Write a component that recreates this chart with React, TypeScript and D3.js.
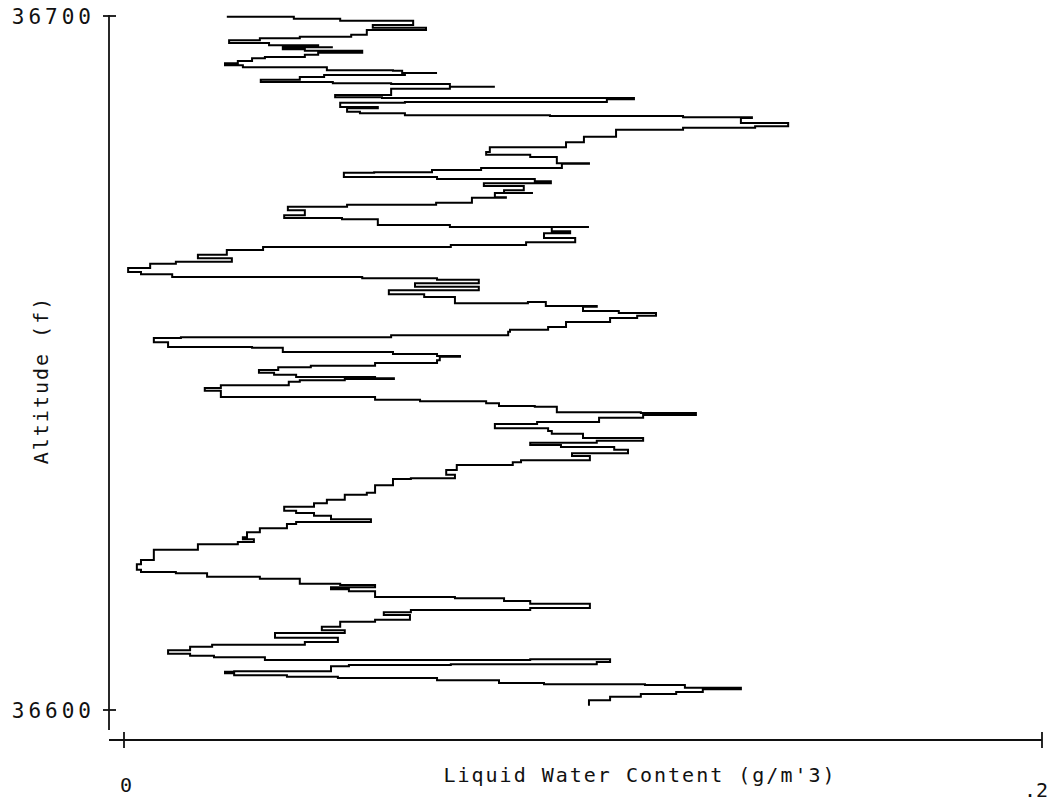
import React from "react";
import * as d3 from "d3";

// Liquid water content (g/m^3) along the trace, read top to bottom
const lwc: number[] = [
  0.0224, 0.0359, 0.0370, 0.0462, 0.0471, 0.0586, 0.0630, 0.0542, 0.0658, 0.0529,
  0.0495, 0.0383, 0.0296, 0.0229, 0.0316, 0.0423, 0.0455, 0.0346, 0.0394, 0.0519,
  0.0423, 0.0394, 0.0307, 0.0279, 0.0248, 0.0220, 0.0259, 0.0346, 0.0442, 0.0586,
  0.0606, 0.0682, 0.0612, 0.0436, 0.0383, 0.0298, 0.0362, 0.0455, 0.0582, 0.0710,
  0.0808, 0.0710, 0.0582, 0.0460, 0.0562, 0.0819, 0.1111, 0.1052, 0.0612, 0.0471,
  0.0553, 0.0486, 0.0514, 0.0612, 0.0928, 0.1218, 0.1368, 0.1344, 0.1447, 0.1375,
  0.1218, 0.1072, 0.1002, 0.0963, 0.0797, 0.0789, 0.0885, 0.0943, 0.1013, 0.0954,
  0.0778, 0.0671, 0.0545, 0.0479, 0.0682, 0.0895, 0.0930, 0.0784, 0.0871, 0.0828,
  0.0891, 0.0808, 0.0832, 0.0758, 0.0680, 0.0486, 0.0357, 0.0394, 0.0349, 0.0475,
  0.0553, 0.0710, 0.1013, 0.0932, 0.0972, 0.0915, 0.0983, 0.0876, 0.0712, 0.0303,
  0.0224, 0.0161, 0.0235, 0.0113, 0.0057, 0.0009, 0.0037, 0.0105, 0.0519, 0.0682,
  0.0773, 0.0634, 0.0773, 0.0577, 0.0654, 0.0721, 0.0880, 0.0919, 0.1030, 0.1000,
  0.1078, 0.1159, 0.1118, 0.1059, 0.0963, 0.0924, 0.0841, 0.0837, 0.0582, 0.0124,
  0.0065, 0.0096, 0.0279, 0.0346, 0.0586, 0.0682, 0.0732, 0.0688, 0.0682, 0.0547,
  0.0407, 0.0336, 0.0294, 0.0327, 0.0375, 0.0547, 0.0588, 0.0481, 0.0383, 0.0359,
  0.0211, 0.0176, 0.0211, 0.0490, 0.0547, 0.0645, 0.0789, 0.0817, 0.0895, 0.0943,
  0.1126, 0.1246, 0.1131, 0.1035, 0.0900, 0.0808, 0.0924, 0.0932, 0.1000, 0.1131,
  0.1030, 0.0885, 0.0952, 0.1068, 0.1098, 0.0976, 0.1015, 0.0865, 0.0847, 0.0725,
  0.0702, 0.0721, 0.0625, 0.0586, 0.0547, 0.0529, 0.0481, 0.0442, 0.0414, 0.0349,
  0.0375, 0.0414, 0.0451, 0.0538, 0.0375, 0.0355, 0.0296, 0.0268, 0.0259, 0.0283,
  0.0248, 0.0161, 0.0065, 0.0037, 0.0028, 0.0037, 0.0113, 0.0181, 0.0296, 0.0383,
  0.0471, 0.0547, 0.0451, 0.0490, 0.0547, 0.0664, 0.0721, 0.0828, 0.0885, 0.1015,
  0.0885, 0.0749, 0.0625, 0.0566, 0.0623, 0.0547, 0.0471, 0.0431, 0.0481, 0.0329,
  0.0466, 0.0394, 0.0192, 0.0144, 0.0096, 0.0144, 0.0196, 0.0307, 0.0885, 0.1059,
  0.1030, 0.0712, 0.0490, 0.0451, 0.0240, 0.0220, 0.0240, 0.0355, 0.0466, 0.0682,
  0.0817, 0.0915, 0.1135, 0.1222, 0.1344, 0.1261, 0.1203, 0.1126, 0.1059, 0.1013,
];

// Altitude (ft) for each point of the trace
const altitude: number[] = [
  36699.9, 36699.9, 36699.6, 36699.6, 36699.3, 36699.3, 36698.7, 36698.3, 36698.0, 36697.3,
  36697.0, 36696.8, 36696.5, 36696.1, 36695.8, 36695.5, 36695.5, 36695.2, 36695.0, 36694.7,
  36694.4, 36694.1, 36693.9, 36693.5, 36693.2, 36692.9, 36692.6, 36692.6, 36692.2, 36692.1,
  36691.8, 36691.8, 36691.5, 36691.2, 36690.8, 36690.5, 36690.5, 36690.3, 36690.2, 36689.8,
  36689.8, 36689.5, 36688.6, 36688.3, 36688.2, 36688.2, 36688.0, 36687.6, 36687.5, 36686.9,
  36686.7, 36686.2, 36686.0, 36685.7, 36685.6, 36685.4, 36685.3, 36684.6, 36684.1, 36683.9,
  36683.6, 36682.6, 36681.8, 36681.1, 36680.4, 36680.0, 36679.7, 36678.8, 36678.7, 36678.1,
  36677.8, 36677.5, 36677.4, 36676.8, 36676.5, 36676.2, 36675.9, 36675.5, 36674.9, 36674.5,
  36674.5, 36673.9, 36673.8, 36673.1, 36672.8, 36672.5, 36672.0, 36671.3, 36670.9, 36670.7,
  36669.9, 36669.6, 36669.6, 36669.0, 36668.7, 36668.0, 36667.4, 36667.0, 36666.7, 36666.3,
  36665.6, 36665.1, 36664.6, 36664.3, 36663.7, 36663.1, 36662.8, 36662.4, 36662.2, 36662.0,
  36661.5, 36661.0, 36660.5, 36659.9, 36659.5, 36658.6, 36658.8, 36658.2, 36658.1, 36657.5,
  36657.2, 36656.8, 36656.5, 36655.9, 36655.2, 36654.8, 36654.5, 36654.0, 36653.7, 36653.6,
  36653.0, 36652.3, 36652.2, 36651.6, 36651.3, 36651.0, 36650.9, 36650.4, 36650.0, 36649.6,
  36649.4, 36649.0, 36648.6, 36648.3, 36648.0, 36647.8, 36647.7, 36647.5, 36647.3, 36646.8,
  36646.4, 36646.0, 36645.1, 36645.1, 36644.7, 36644.5, 36644.2, 36643.8, 36643.7, 36642.9,
  36642.8, 36642.5, 36642.1, 36641.5, 36641.2, 36640.6, 36640.2, 36639.8, 36639.2, 36638.8,
  36638.5, 36638.2, 36637.9, 36637.5, 36637.0, 36636.6, 36636.0, 36635.7, 36635.3, 36634.6,
  36633.9, 36633.4, 36633.3, 36632.4, 36631.3, 36631.0, 36630.3, 36629.8, 36629.3, 36628.7,
  36628.4, 36628.0, 36627.5, 36627.1, 36626.8, 36626.2, 36625.6, 36624.9, 36624.6, 36624.2,
  36623.9, 36623.1, 36621.6, 36621.0, 36620.2, 36619.9, 36619.7, 36619.2, 36618.9, 36618.2,
  36618.0, 36617.7, 36617.4, 36617.1, 36616.3, 36616.3, 36616.1, 36615.7, 36615.3, 36614.7,
  36614.4, 36614.4, 36614.1, 36613.7, 36613.0, 36612.7, 36612.0, 36611.5, 36611.1, 36610.4,
  36609.8, 36609.4, 36609.1, 36608.6, 36608.1, 36607.8, 36607.6, 36607.2, 36607.3, 36606.9,
  36606.6, 36606.5, 36606.3, 36605.6, 36605.5, 36605.3, 36605.0, 36604.8, 36604.6, 36604.3,
  36603.9, 36603.7, 36603.6, 36603.2, 36603.0, 36602.6, 36602.3, 36601.9, 36601.4, 36600.6,
];

const yTicks: number[] = [36600, 36700];
const yTickLabels: string[] = ["36600", "36700"];
const xTicks: number[] = [0, 0.2];
const xTickLabels: string[] = ["0", ".2"];
const xTitle = "Liquid Water Content (g/m'3)";
const yTitle = "Altitude (f)";

const W = 1049;
const H = 801;
const FONT = "'DejaVu Sans Mono', 'Liberation Mono', monospace";

export default function App() {
  const x = d3.scaleLinear().domain([0, 0.2]).range([124, 1042]);
  const y = d3.scaleLinear().domain([36600, 36700]).range([710, 16]);

  const pts: [number, number][] = lwc.map((v, i) => [v, altitude[i]]);
  const path =
    d3
      .line<[number, number]>()
      .x((d) => x(d[0]))
      .y((d) => y(d[1]))
      .curve(d3.curveStepAfter)(pts) || "";

  const axisX = 109;
  const axisY = 740;

  return (
    <svg
      width={W}
      height={H}
      viewBox={`0 0 ${W} ${H}`}
      style={{ position: "absolute", left: 0, top: 0, background: "#fff" }}
    >
      <rect x={0} y={0} width={W} height={H} fill="#fff" />
      {/* Y axis */}
      <line x1={axisX} y1={y(36700) - 1} x2={axisX} y2={730} stroke="#111" strokeWidth={1.8} />
      {yTicks.map((t, i) => (
        <g key={"yt" + i}>
          <line x1={axisX - 6} x2={axisX + 7} y1={y(t)} y2={y(t)} stroke="#111" strokeWidth={1.8} />
          <text
            x={95}
            y={y(t) + 8}
            textAnchor="end"
            fontFamily={FONT}
            fontSize={21}
            letterSpacing={4}
            fill="#111"
          >
            {yTickLabels[i]}
          </text>
        </g>
      ))}
      {/* X axis */}
      <line x1={axisX} y1={axisY} x2={x(0.2)} y2={axisY} stroke="#111" strokeWidth={1.8} />
      {xTicks.map((t, i) => (
        <g key={"xt" + i}>
          <line x1={x(t)} x2={x(t)} y1={axisY - 8} y2={axisY + 8} stroke="#111" strokeWidth={1.8} />
          <text
            x={i === 0 ? x(t) + 2 : x(t) - 6}
            y={i === 0 ? 792 : 797}
            textAnchor="middle"
            fontFamily={FONT}
            fontSize={20}
            fill="#111"
          >
            {xTickLabels[i]}
          </text>
        </g>
      ))}
      <text
        x={640}
        y={782}
        textAnchor="middle"
        fontFamily={FONT}
        fontSize={20}
        letterSpacing={2}
        fill="#111"
      >
        {xTitle}
      </text>
      <text
        transform="translate(48,380) rotate(-90)"
        textAnchor="middle"
        fontFamily={FONT}
        fontSize={20}
        letterSpacing={2}
        fill="#111"
      >
        {yTitle}
      </text>
      {/* Trace */}
      <path d={path} fill="none" stroke="#000" strokeWidth={2} strokeLinejoin="miter" />
    </svg>
  );
}
